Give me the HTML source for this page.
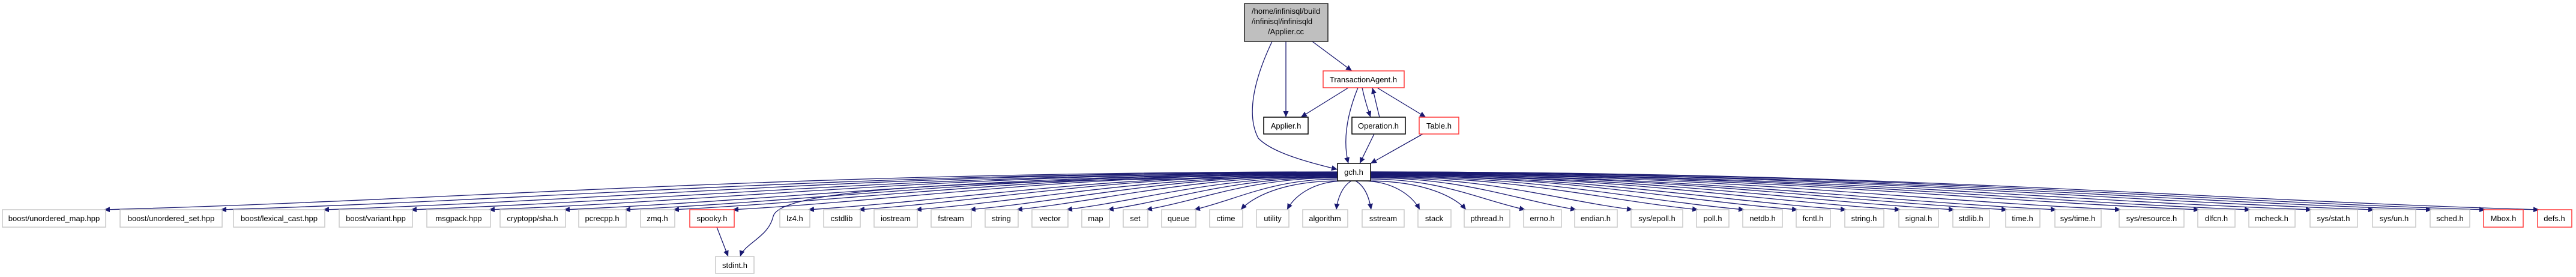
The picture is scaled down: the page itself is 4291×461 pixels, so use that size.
<!DOCTYPE html>
<html><head><meta charset="utf-8"><style>
html,body{margin:0;padding:0;background:#fff;}
svg{display:block;}
text{font-family:"Liberation Sans",Arial,sans-serif;font-size:13px;fill:#000;}
</style></head><body>
<svg width="4291" height="461" viewBox="0 0 4291 461" xmlns="http://www.w3.org/2000/svg">
<defs>
<marker id="a" markerWidth="11" markerHeight="9" refX="10" refY="4.5" orient="auto" markerUnits="userSpaceOnUse"><path d="M0,0L10,4.5L0,9z" fill="#191970"/></marker>
</defs>
<g fill="none" stroke="#191970" stroke-width="1.3" marker-end="url(#a)">
<!-- top -->
<path d="M2119,69 C2090,130 2075,190 2096,230 C2120,255 2180,270 2228,282"/>
<path d="M2142,69 L2142,195"/>
<path d="M2186,69 L2252,118"/>
<path d="M2246,146 L2167,195"/>
<path d="M2262,146 C2240,200 2238,240 2246,272"/>
<path d="M2269,146 C2273,165 2278,180 2283,195"/>
<path d="M2298,195 C2294,180 2291,165 2286,146"/>
<path d="M2294,146 L2375,195"/>
<path d="M2289,223 L2265,272"/>
<path d="M2370,223 L2283,272"/>
<path d="M1194,378 L1213,427"/>
<path d="M2228,295 C1600,298 1300,315 1288,360 C1280,395 1240,405 1233,427"/>
<!-- left fan -->
<path d="M2228,286 C1303,286 790,332 173,349"/>
<path d="M2228,287 C1391,287 925,332 367,349"/>
<path d="M2228,287 C1468,287 1045,332 538,349"/>
<path d="M2228,288 C1533,288 1147,332 684,349"/>
<path d="M2228,288 C1592,288 1238,332 814,349"/>
<path d="M2228,289 C1648,289 1326,332 939,349"/>
<path d="M2228,289 C1693,289 1396,332 1040,349"/>
<path d="M2228,290 C1730,290 1453,332 1121,349"/>
<path d="M2228,290 C1774,290 1522,332 1220,349"/>
<path d="M2228,291 C1831,291 1611,332 1346,349"/>
<path d="M2228,291 C1869,291 1669,332 1430,349"/>
<path d="M2228,292 C1912,292 1736,332 1525,349"/>
<path d="M2228,292 C1952,292 1799,332 1615,349"/>
<path d="M2228,293 C1987,293 1853,332 1693,349"/>
<path d="M2228,294 C2025,294 1912,332 1776,349"/>
<path d="M2228,295 C2056,295 1960,332 1845,349"/>
<path d="M2228,296 C2084,296 2005,332 1909,349"/>
<path d="M2228,298 C2120,298 2061,332 1989,349"/>
<path d="M2232,301 C2133,301 2084,330 2067,349"/>
<path d="M2242,301 C2183,301 2154,330 2144,349"/>
<path d="M2251,301 C2236,310 2228,330 2226,349"/>
<path d="M2258,301 C2274,310 2281,330 2284,349"/>
<!-- right fan -->
<path d="M2268,301 C2326,301 2355,330 2365,349"/>
<path d="M2277,301 C2376,301 2426,330 2442,349"/>
<path d="M2283,298 C2399,298 2464,332 2541,349"/>
<path d="M2283,296 C2437,296 2523,332 2626,349"/>
<path d="M2283,295 C2480,295 2589,332 2720,349"/>
<path d="M2283,294 C2529,294 2665,332 2829,349"/>
<path d="M2283,293 C2563,293 2719,332 2906,349"/>
<path d="M2283,292 C2603,292 2781,332 2995,349"/>
<path d="M2283,292 C2640,292 2838,332 3076,349"/>
<path d="M2283,291 C2680,291 2901,332 3166,349"/>
<path d="M2283,291 C2721,291 2964,332 3256,349"/>
<path d="M2283,290 C2760,290 3026,332 3344,349"/>
<path d="M2283,290 C2797,290 3083,332 3426,349"/>
<path d="M2283,289 C2846,289 3158,332 3533,349"/>
<path d="M2283,289 C2904,289 3250,332 3664,349"/>
<path d="M2283,288 C2943,288 3309,332 3749,349"/>
<path d="M2283,288 C2989,288 3381,332 3851,349"/>
<path d="M2283,287 C3035,287 3453,332 3955,349"/>
<path d="M2283,287 C3079,287 3521,332 4051,349"/>
<path d="M2283,286 C3119,286 3583,332 4140,349"/>
<path d="M2283,286 C3159,286 3646,332 4230,349"/>
</g>

<!-- top nodes -->
<rect x="2073" y="6" width="139" height="63" fill="#bfbfbf" stroke="#222" stroke-width="1.5"/>
<text x="2085" y="23">/home/infinisql/build</text>
<text x="2085" y="40">/infinisql/infinisqld</text>
<text x="2142" y="57" text-anchor="middle">/Applier.cc</text>

<g fill="#fff" stroke-width="1.5">
<rect x="2204" y="118" width="135" height="28" stroke="#ff3a3a"/>
<rect x="2105" y="195" width="74" height="28" stroke="#000"/>
<rect x="2252" y="195" width="89" height="28" stroke="#000"/>
<rect x="2364" y="195" width="66" height="28" stroke="#ff3a3a"/>
<rect x="2228" y="272" width="55" height="29" stroke="#000"/>
<rect x="1192" y="427" width="64" height="28" stroke="#c8c8c8"/>
</g>
<g text-anchor="middle">
<text x="2271" y="137">TransactionAgent.h</text>
<text x="2142" y="214">Applier.h</text>
<text x="2296" y="214">Operation.h</text>
<text x="2397" y="214">Table.h</text>
<text x="2255" y="291">gch.h</text>
<text x="1224" y="446">stdint.h</text>
</g>

<!-- bottom row -->
<g fill="#fff" stroke="#c8c8c8" stroke-width="1.5">
<rect x="4" y="349" width="172" height="29"/>
<rect x="200" y="349" width="170" height="29"/>
<rect x="389" y="349" width="152" height="29"/>
<rect x="565" y="349" width="122" height="29"/>
<rect x="711" y="349" width="106" height="29"/>
<rect x="833" y="349" width="109" height="29"/>
<rect x="964" y="349" width="79" height="29"/>
<rect x="1067" y="349" width="57" height="29"/>
<rect x="1149" y="349" width="74" height="29" stroke="#ff3a3a"/>
<rect x="1299" y="349" width="50" height="29"/>
<rect x="1372" y="349" width="61" height="29"/>
<rect x="1456" y="349" width="72" height="29"/>
<rect x="1551" y="349" width="67" height="29"/>
<rect x="1641" y="349" width="55" height="29"/>
<rect x="1719" y="349" width="60" height="29"/>
<rect x="1802" y="349" width="46" height="29"/>
<rect x="1871" y="349" width="41" height="29"/>
<rect x="1935" y="349" width="57" height="29"/>
<rect x="2015" y="349" width="55" height="29"/>
<rect x="2093" y="349" width="54" height="29"/>
<rect x="2170" y="349" width="75" height="29"/>
<rect x="2269" y="349" width="70" height="29"/>
<rect x="2362" y="349" width="55" height="29"/>
<rect x="2439" y="349" width="76" height="29"/>
<rect x="2538" y="349" width="63" height="29"/>
<rect x="2623" y="349" width="71" height="29"/>
<rect x="2717" y="349" width="86" height="29"/>
<rect x="2826" y="349" width="54" height="29"/>
<rect x="2903" y="349" width="66" height="29"/>
<rect x="2992" y="349" width="57" height="29"/>
<rect x="3073" y="349" width="65" height="29"/>
<rect x="3163" y="349" width="66" height="29"/>
<rect x="3253" y="349" width="61" height="29"/>
<rect x="3341" y="349" width="57" height="29"/>
<rect x="3423" y="349" width="77" height="29"/>
<rect x="3530" y="349" width="108" height="29"/>
<rect x="3661" y="349" width="62" height="29"/>
<rect x="3746" y="349" width="77" height="29"/>
<rect x="3848" y="349" width="79" height="29"/>
<rect x="3952" y="349" width="72" height="29"/>
<rect x="4048" y="349" width="66" height="29"/>
<rect x="4137" y="349" width="66" height="29" stroke="#ff3a3a"/>
<rect x="4227" y="349" width="57" height="29" stroke="#ff3a3a"/>
</g>
<g text-anchor="middle">
<text x="90" y="368">boost/unordered_map.hpp</text>
<text x="285" y="368">boost/unordered_set.hpp</text>
<text x="465" y="368">boost/lexical_cast.hpp</text>
<text x="626" y="368">boost/variant.hpp</text>
<text x="764" y="368">msgpack.hpp</text>
<text x="887" y="368">cryptopp/sha.h</text>
<text x="1003" y="368">pcrecpp.h</text>
<text x="1095" y="368">zmq.h</text>
<text x="1186" y="368">spooky.h</text>
<text x="1324" y="368">lz4.h</text>
<text x="1402" y="368">cstdlib</text>
<text x="1492" y="368">iostream</text>
<text x="1584" y="368">fstream</text>
<text x="1668" y="368">string</text>
<text x="1749" y="368">vector</text>
<text x="1825" y="368">map</text>
<text x="1891" y="368">set</text>
<text x="1963" y="368">queue</text>
<text x="2042" y="368">ctime</text>
<text x="2120" y="368">utility</text>
<text x="2207" y="368">algorithm</text>
<text x="2304" y="368">sstream</text>
<text x="2389" y="368">stack</text>
<text x="2477" y="368">pthread.h</text>
<text x="2569" y="368">errno.h</text>
<text x="2658" y="368">endian.h</text>
<text x="2760" y="368">sys/epoll.h</text>
<text x="2853" y="368">poll.h</text>
<text x="2936" y="368">netdb.h</text>
<text x="3020" y="368">fcntl.h</text>
<text x="3105" y="368">string.h</text>
<text x="3196" y="368">signal.h</text>
<text x="3283" y="368">stdlib.h</text>
<text x="3369" y="368">time.h</text>
<text x="3461" y="368">sys/time.h</text>
<text x="3584" y="368">sys/resource.h</text>
<text x="3692" y="368">dlfcn.h</text>
<text x="3784" y="368">mcheck.h</text>
<text x="3887" y="368">sys/stat.h</text>
<text x="3988" y="368">sys/un.h</text>
<text x="4081" y="368">sched.h</text>
<text x="4170" y="368">Mbox.h</text>
<text x="4255" y="368">defs.h</text>
</g>
</svg>
</body></html>
